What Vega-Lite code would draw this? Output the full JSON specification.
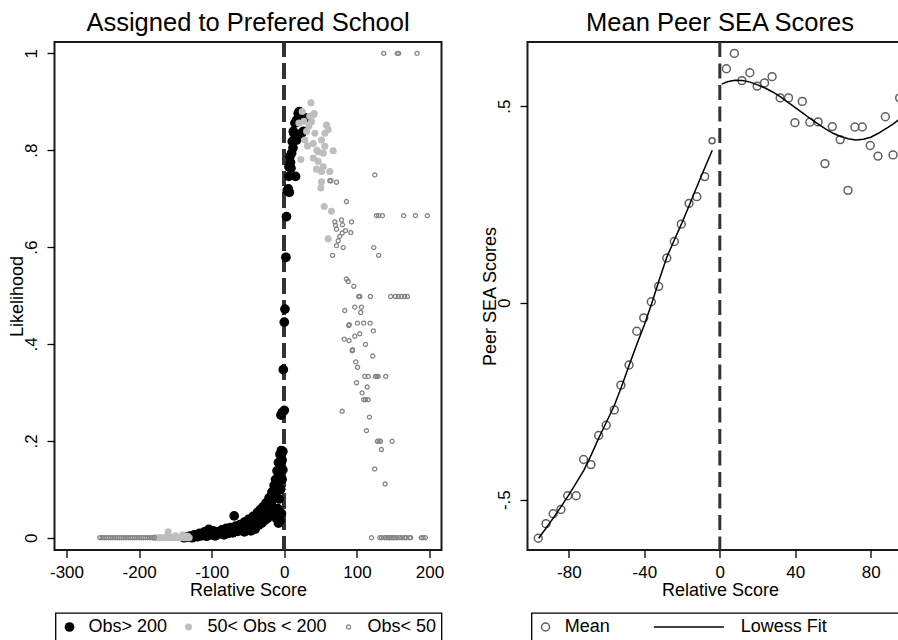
{
  "$schema": "https://vega.github.io/schema/vega-lite/v6.json",
  "background": "white",
  "padding": {"left": 7.5, "top": 10, "right": 0, "bottom": 0},
  "bounds": "flush",
  "spacing": 86,
  "resolve": {
    "scale": {"x": "independent", "y": "independent", "fill": "independent", "stroke": "independent", "size": "independent", "strokeWidth": "independent", "shape": "independent"},
    "legend": {"fill": "independent", "stroke": "independent", "size": "independent", "strokeWidth": "independent", "shape": "independent"}
  },
  "hconcat": [
    {
      "width": 387,
      "height": 508,
      "title": {"text": "Assigned to Prefered School"},
      "data": {"values": [
        {"x": -138, "y": 0.000, "g": "Obs> 200"}, {"x": -134, "y": 0.001, "g": "Obs> 200"}, {"x": -130, "y": 0.003, "g": "Obs> 200"}, {"x": -127, "y": 0.000, "g": "Obs> 200"},
        {"x": -124, "y": 0.006, "g": "Obs> 200"}, {"x": -120, "y": 0.002, "g": "Obs> 200"}, {"x": -117, "y": 0.009, "g": "Obs> 200"}, {"x": -114, "y": 0.004, "g": "Obs> 200"},
        {"x": -110, "y": 0.012, "g": "Obs> 200"}, {"x": -107, "y": 0.003, "g": "Obs> 200"}, {"x": -104, "y": 0.017, "g": "Obs> 200"}, {"x": -101, "y": 0.006, "g": "Obs> 200"},
        {"x": -98, "y": 0.014, "g": "Obs> 200"}, {"x": -95, "y": 0.004, "g": "Obs> 200"}, {"x": -92, "y": 0.012, "g": "Obs> 200"}, {"x": -89, "y": 0.008, "g": "Obs> 200"},
        {"x": -86, "y": 0.016, "g": "Obs> 200"}, {"x": -83, "y": 0.006, "g": "Obs> 200"}, {"x": -80, "y": 0.019, "g": "Obs> 200"}, {"x": -77, "y": 0.009, "g": "Obs> 200"},
        {"x": -74, "y": 0.021, "g": "Obs> 200"}, {"x": -71, "y": 0.010, "g": "Obs> 200"}, {"x": -69, "y": 0.045, "g": "Obs> 200"}, {"x": -67, "y": 0.024, "g": "Obs> 200"},
        {"x": -64, "y": 0.013, "g": "Obs> 200"}, {"x": -61, "y": 0.027, "g": "Obs> 200"}, {"x": -58, "y": 0.016, "g": "Obs> 200"}, {"x": -55, "y": 0.032, "g": "Obs> 200"},
        {"x": -52, "y": 0.020, "g": "Obs> 200"}, {"x": -49, "y": 0.038, "g": "Obs> 200"}, {"x": -46, "y": 0.014, "g": "Obs> 200"}, {"x": -43, "y": 0.044, "g": "Obs> 200"},
        {"x": -40, "y": 0.018, "g": "Obs> 200"}, {"x": -37, "y": 0.052, "g": "Obs> 200"}, {"x": -35, "y": 0.026, "g": "Obs> 200"}, {"x": -33, "y": 0.058, "g": "Obs> 200"},
        {"x": -31, "y": 0.030, "g": "Obs> 200"}, {"x": -29, "y": 0.064, "g": "Obs> 200"}, {"x": -27, "y": 0.036, "g": "Obs> 200"}, {"x": -25, "y": 0.072, "g": "Obs> 200"},
        {"x": -23, "y": 0.040, "g": "Obs> 200"}, {"x": -21, "y": 0.082, "g": "Obs> 200"}, {"x": -19, "y": 0.046, "g": "Obs> 200"}, {"x": -17, "y": 0.094, "g": "Obs> 200"},
        {"x": -15, "y": 0.052, "g": "Obs> 200"}, {"x": -14, "y": 0.108, "g": "Obs> 200"}, {"x": -13, "y": 0.060, "g": "Obs> 200"}, {"x": -12, "y": 0.120, "g": "Obs> 200"},
        {"x": -11, "y": 0.040, "g": "Obs> 200"}, {"x": -10, "y": 0.138, "g": "Obs> 200"}, {"x": -9, "y": 0.060, "g": "Obs> 200"}, {"x": -8, "y": 0.155, "g": "Obs> 200"},
        {"x": -7, "y": 0.080, "g": "Obs> 200"}, {"x": -6, "y": 0.172, "g": "Obs> 200"}, {"x": -5, "y": 0.100, "g": "Obs> 200"}, {"x": -4, "y": 0.180, "g": "Obs> 200"},
        {"x": -3, "y": 0.120, "g": "Obs> 200"}, {"x": -2, "y": 0.178, "g": "Obs> 200"}, {"x": -2, "y": 0.140, "g": "Obs> 200"}, {"x": -3, "y": 0.160, "g": "Obs> 200"},
        {"x": -4, "y": 0.050, "g": "Obs> 200"}, {"x": -6, "y": 0.035, "g": "Obs> 200"}, {"x": -8, "y": 0.030, "g": "Obs> 200"},
        {"x": -45, "y": 0.030, "g": "Obs> 200"}, {"x": -41, "y": 0.035, "g": "Obs> 200"}, {"x": -38, "y": 0.040, "g": "Obs> 200"}, {"x": -34, "y": 0.045, "g": "Obs> 200"},
        {"x": -30, "y": 0.050, "g": "Obs> 200"}, {"x": -26, "y": 0.055, "g": "Obs> 200"}, {"x": -22, "y": 0.062, "g": "Obs> 200"}, {"x": -18, "y": 0.070, "g": "Obs> 200"},
        {"x": -16, "y": 0.080, "g": "Obs> 200"}, {"x": -14, "y": 0.085, "g": "Obs> 200"}, {"x": -12, "y": 0.095, "g": "Obs> 200"}, {"x": -10, "y": 0.100, "g": "Obs> 200"},
        {"x": -9, "y": 0.115, "g": "Obs> 200"}, {"x": -7, "y": 0.130, "g": "Obs> 200"}, {"x": -5, "y": 0.145, "g": "Obs> 200"}, {"x": -100, "y": 0.010, "g": "Obs> 200"},
        {"x": -90, "y": 0.012, "g": "Obs> 200"}, {"x": -80, "y": 0.012, "g": "Obs> 200"}, {"x": -70, "y": 0.016, "g": "Obs> 200"}, {"x": -60, "y": 0.020, "g": "Obs> 200"},
        {"x": -55, "y": 0.012, "g": "Obs> 200"}, {"x": -50, "y": 0.025, "g": "Obs> 200"},
        {"x": 0.9, "y": 0.472, "g": "Obs> 200"}, {"x": 0, "y": 0.445, "g": "Obs> 200"}, {"x": -1.4, "y": 0.347, "g": "Obs> 200"}, {"x": 0, "y": 0.263, "g": "Obs> 200"},
        {"x": -4.6, "y": 0.253, "g": "Obs> 200"}, {"x": -3, "y": 0.258, "g": "Obs> 200"}, {"x": 2.2, "y": 0.579, "g": "Obs> 200"}, {"x": 3, "y": 0.663, "g": "Obs> 200"},
        {"x": 4.1, "y": 0.717, "g": "Obs> 200"}, {"x": 6.9, "y": 0.713, "g": "Obs> 200"}, {"x": 5.5, "y": 0.72, "g": "Obs> 200"}, {"x": 6.3, "y": 0.746, "g": "Obs> 200"},
        {"x": 9.1, "y": 0.763, "g": "Obs> 200"}, {"x": 15.5, "y": 0.746, "g": "Obs> 200"}, {"x": 6.3, "y": 0.766, "g": "Obs> 200"}, {"x": 7.7, "y": 0.787, "g": "Obs> 200"},
        {"x": 10, "y": 0.794, "g": "Obs> 200"}, {"x": 12, "y": 0.805, "g": "Obs> 200"}, {"x": 11, "y": 0.818, "g": "Obs> 200"}, {"x": 16.9, "y": 0.821, "g": "Obs> 200"},
        {"x": 12.4, "y": 0.839, "g": "Obs> 200"}, {"x": 13.2, "y": 0.835, "g": "Obs> 200"}, {"x": 23.8, "y": 0.835, "g": "Obs> 200"}, {"x": 26.1, "y": 0.839, "g": "Obs> 200"},
        {"x": 16.9, "y": 0.862, "g": "Obs> 200"}, {"x": 14.6, "y": 0.856, "g": "Obs> 200"}, {"x": 28.3, "y": 0.867, "g": "Obs> 200"}, {"x": 20.6, "y": 0.880, "g": "Obs> 200"},
        {"x": 19.2, "y": 0.876, "g": "Obs> 200"}, {"x": 22, "y": 0.868, "g": "Obs> 200"}, {"x": 8.5, "y": 0.775, "g": "Obs> 200"},
        {"x": -178, "y": 0, "g": "50< Obs < 200"}, {"x": -175, "y": 0, "g": "50< Obs < 200"}, {"x": -171, "y": 0, "g": "50< Obs < 200"}, {"x": -168, "y": 0, "g": "50< Obs < 200"},
        {"x": -165, "y": 0, "g": "50< Obs < 200"}, {"x": -162, "y": 0, "g": "50< Obs < 200"}, {"x": -158, "y": 0, "g": "50< Obs < 200"}, {"x": -155, "y": 0, "g": "50< Obs < 200"},
        {"x": -152, "y": 0, "g": "50< Obs < 200"}, {"x": -149, "y": 0, "g": "50< Obs < 200"}, {"x": -146, "y": 0, "g": "50< Obs < 200"}, {"x": -143, "y": 0, "g": "50< Obs < 200"},
        {"x": -140, "y": 0, "g": "50< Obs < 200"}, {"x": -137, "y": 0, "g": "50< Obs < 200"}, {"x": -134, "y": 0, "g": "50< Obs < 200"}, {"x": -131, "y": 0, "g": "50< Obs < 200"},
        {"x": -160, "y": 0.012, "g": "50< Obs < 200"}, {"x": -150, "y": 0.004, "g": "50< Obs < 200"}, {"x": -140, "y": 0.006, "g": "50< Obs < 200"}, {"x": -133, "y": 0.003, "g": "50< Obs < 200"},
        {"x": 36.6, "y": 0.898, "g": "50< Obs < 200"}, {"x": 24.7, "y": 0.880, "g": "50< Obs < 200"}, {"x": 39.9, "y": 0.873, "g": "50< Obs < 200"}, {"x": 41.2, "y": 0.876, "g": "50< Obs < 200"},
        {"x": 37.5, "y": 0.859, "g": "50< Obs < 200"}, {"x": 58.1, "y": 0.852, "g": "50< Obs < 200"}, {"x": 60.5, "y": 0.843, "g": "50< Obs < 200"}, {"x": 55.8, "y": 0.835, "g": "50< Obs < 200"},
        {"x": 20.1, "y": 0.856, "g": "50< Obs < 200"}, {"x": 30.7, "y": 0.839, "g": "50< Obs < 200"}, {"x": 42.1, "y": 0.835, "g": "50< Obs < 200"}, {"x": 28.3, "y": 0.821, "g": "50< Obs < 200"},
        {"x": 51.3, "y": 0.821, "g": "50< Obs < 200"}, {"x": 39.9, "y": 0.814, "g": "50< Obs < 200"}, {"x": 32, "y": 0.809, "g": "50< Obs < 200"}, {"x": 55.8, "y": 0.808, "g": "50< Obs < 200"},
        {"x": 67.4, "y": 0.799, "g": "50< Obs < 200"}, {"x": 46.7, "y": 0.797, "g": "50< Obs < 200"}, {"x": 53.6, "y": 0.794, "g": "50< Obs < 200"}, {"x": 39.9, "y": 0.784, "g": "50< Obs < 200"},
        {"x": 22.8, "y": 0.781, "g": "50< Obs < 200"}, {"x": 46.7, "y": 0.777, "g": "50< Obs < 200"}, {"x": 53.6, "y": 0.766, "g": "50< Obs < 200"}, {"x": 44.4, "y": 0.761, "g": "50< Obs < 200"},
        {"x": 51.3, "y": 0.756, "g": "50< Obs < 200"}, {"x": 62.7, "y": 0.756, "g": "50< Obs < 200"}, {"x": 51.3, "y": 0.735, "g": "50< Obs < 200"}, {"x": 50.3, "y": 0.722, "g": "50< Obs < 200"},
        {"x": 55, "y": 0.684, "g": "50< Obs < 200"}, {"x": 65, "y": 0.674, "g": "50< Obs < 200"}, {"x": 60.5, "y": 0.617, "g": "50< Obs < 200"}, {"x": 34, "y": 0.85, "g": "50< Obs < 200"},
        {"x": 45, "y": 0.80, "g": "50< Obs < 200"}, {"x": 35, "y": 0.87, "g": "50< Obs < 200"}, {"x": 27, "y": 0.86, "g": "50< Obs < 200"},
        {"x": -254, "y": 0, "g": "Obs< 50"}, {"x": -251, "y": 0, "g": "Obs< 50"}, {"x": -248, "y": 0, "g": "Obs< 50"}, {"x": -245, "y": 0, "g": "Obs< 50"},
        {"x": -242, "y": 0, "g": "Obs< 50"}, {"x": -239, "y": 0, "g": "Obs< 50"}, {"x": -236, "y": 0, "g": "Obs< 50"}, {"x": -233, "y": 0, "g": "Obs< 50"},
        {"x": -230, "y": 0, "g": "Obs< 50"}, {"x": -227, "y": 0, "g": "Obs< 50"}, {"x": -224, "y": 0, "g": "Obs< 50"}, {"x": -221, "y": 0, "g": "Obs< 50"},
        {"x": -218, "y": 0, "g": "Obs< 50"}, {"x": -215, "y": 0, "g": "Obs< 50"}, {"x": -212, "y": 0, "g": "Obs< 50"}, {"x": -209, "y": 0, "g": "Obs< 50"},
        {"x": -206, "y": 0, "g": "Obs< 50"}, {"x": -203, "y": 0, "g": "Obs< 50"}, {"x": -200, "y": 0, "g": "Obs< 50"}, {"x": -197, "y": 0, "g": "Obs< 50"},
        {"x": -194, "y": 0, "g": "Obs< 50"}, {"x": -191, "y": 0, "g": "Obs< 50"}, {"x": -188, "y": 0, "g": "Obs< 50"}, {"x": -185, "y": 0, "g": "Obs< 50"},
        {"x": -182, "y": 0, "g": "Obs< 50"}, {"x": -179, "y": 0, "g": "Obs< 50"},
        {"x": 136.9, "y": 1, "g": "Obs< 50"}, {"x": 155.5, "y": 1, "g": "Obs< 50"}, {"x": 157.5, "y": 1, "g": "Obs< 50"}, {"x": 182.8, "y": 1, "g": "Obs< 50"},
        {"x": 124.6, "y": 0.749, "g": "Obs< 50"}, {"x": 62.7, "y": 0.737, "g": "Obs< 50"}, {"x": 64.1, "y": 0.737, "g": "Obs< 50"}, {"x": 71.9, "y": 0.734, "g": "Obs< 50"},
        {"x": 85.6, "y": 0.694, "g": "Obs< 50"}, {"x": 126.9, "y": 0.665, "g": "Obs< 50"}, {"x": 130, "y": 0.665, "g": "Obs< 50"}, {"x": 135.1, "y": 0.665, "g": "Obs< 50"},
        {"x": 164.4, "y": 0.665, "g": "Obs< 50"}, {"x": 180.5, "y": 0.665, "g": "Obs< 50"}, {"x": 197, "y": 0.665, "g": "Obs< 50"}, {"x": 69.6, "y": 0.652, "g": "Obs< 50"},
        {"x": 78.8, "y": 0.656, "g": "Obs< 50"}, {"x": 92.5, "y": 0.652, "g": "Obs< 50"}, {"x": 70.5, "y": 0.645, "g": "Obs< 50"}, {"x": 80.1, "y": 0.646, "g": "Obs< 50"},
        {"x": 71.9, "y": 0.637, "g": "Obs< 50"}, {"x": 84.3, "y": 0.634, "g": "Obs< 50"}, {"x": 91.6, "y": 0.630, "g": "Obs< 50"}, {"x": 79.7, "y": 0.629, "g": "Obs< 50"},
        {"x": 76.4, "y": 0.622, "g": "Obs< 50"}, {"x": 74.2, "y": 0.613, "g": "Obs< 50"}, {"x": 71.9, "y": 0.603, "g": "Obs< 50"}, {"x": 81.1, "y": 0.599, "g": "Obs< 50"},
        {"x": 123.2, "y": 0.599, "g": "Obs< 50"}, {"x": 66.4, "y": 0.583, "g": "Obs< 50"}, {"x": 130, "y": 0.583, "g": "Obs< 50"}, {"x": 85.6, "y": 0.534, "g": "Obs< 50"},
        {"x": 88, "y": 0.529, "g": "Obs< 50"}, {"x": 95.7, "y": 0.519, "g": "Obs< 50"},
        {"x": 102.5, "y": 0.498, "g": "Obs< 50"}, {"x": 104, "y": 0.498, "g": "Obs< 50"}, {"x": 118.6, "y": 0.498, "g": "Obs< 50"}, {"x": 146.5, "y": 0.498, "g": "Obs< 50"},
        {"x": 153, "y": 0.498, "g": "Obs< 50"}, {"x": 157, "y": 0.498, "g": "Obs< 50"}, {"x": 161.2, "y": 0.498, "g": "Obs< 50"}, {"x": 165.8, "y": 0.498, "g": "Obs< 50"},
        {"x": 169.5, "y": 0.498, "g": "Obs< 50"},
        {"x": 83.3, "y": 0.469, "g": "Obs< 50"}, {"x": 97, "y": 0.476, "g": "Obs< 50"}, {"x": 106.3, "y": 0.476, "g": "Obs< 50"}, {"x": 105.3, "y": 0.465, "g": "Obs< 50"},
        {"x": 88.8, "y": 0.438, "g": "Obs< 50"}, {"x": 89.5, "y": 0.440, "g": "Obs< 50"}, {"x": 100.8, "y": 0.443, "g": "Obs< 50"}, {"x": 109.4, "y": 0.443, "g": "Obs< 50"},
        {"x": 118.2, "y": 0.443, "g": "Obs< 50"}, {"x": 122.7, "y": 0.427, "g": "Obs< 50"}, {"x": 82.5, "y": 0.410, "g": "Obs< 50"}, {"x": 89.3, "y": 0.407, "g": "Obs< 50"},
        {"x": 97, "y": 0.416, "g": "Obs< 50"}, {"x": 103.9, "y": 0.421, "g": "Obs< 50"}, {"x": 111.8, "y": 0.399, "g": "Obs< 50"}, {"x": 93.5, "y": 0.386, "g": "Obs< 50"},
        {"x": 94, "y": 0.388, "g": "Obs< 50"}, {"x": 121.8, "y": 0.375, "g": "Obs< 50"}, {"x": 98.4, "y": 0.363, "g": "Obs< 50"}, {"x": 100.8, "y": 0.352, "g": "Obs< 50"},
        {"x": 110.8, "y": 0.333, "g": "Obs< 50"}, {"x": 115.5, "y": 0.333, "g": "Obs< 50"}, {"x": 125.5, "y": 0.333, "g": "Obs< 50"}, {"x": 127.5, "y": 0.333, "g": "Obs< 50"},
        {"x": 129.2, "y": 0.333, "g": "Obs< 50"}, {"x": 139.7, "y": 0.333, "g": "Obs< 50"}, {"x": 99.4, "y": 0.320, "g": "Obs< 50"}, {"x": 114.1, "y": 0.311, "g": "Obs< 50"},
        {"x": 107.2, "y": 0.299, "g": "Obs< 50"}, {"x": 109.4, "y": 0.285, "g": "Obs< 50"}, {"x": 112, "y": 0.285, "g": "Obs< 50"}, {"x": 115.5, "y": 0.285, "g": "Obs< 50"},
        {"x": 79.7, "y": 0.261, "g": "Obs< 50"}, {"x": 117.3, "y": 0.249, "g": "Obs< 50"}, {"x": 113.1, "y": 0.221, "g": "Obs< 50"}, {"x": 128.2, "y": 0.199, "g": "Obs< 50"},
        {"x": 130.5, "y": 0.199, "g": "Obs< 50"}, {"x": 132.4, "y": 0.199, "g": "Obs< 50"}, {"x": 148.5, "y": 0.199, "g": "Obs< 50"}, {"x": 133.7, "y": 0.182, "g": "Obs< 50"},
        {"x": 124.5, "y": 0.142, "g": "Obs< 50"}, {"x": 138.8, "y": 0.111, "g": "Obs< 50"},
        {"x": 120, "y": 0, "g": "Obs< 50"}, {"x": 131.5, "y": 0, "g": "Obs< 50"}, {"x": 134, "y": 0, "g": "Obs< 50"}, {"x": 138.3, "y": 0, "g": "Obs< 50"},
        {"x": 141, "y": 0, "g": "Obs< 50"}, {"x": 143, "y": 0, "g": "Obs< 50"}, {"x": 145.2, "y": 0, "g": "Obs< 50"}, {"x": 147, "y": 0, "g": "Obs< 50"},
        {"x": 150, "y": 0, "g": "Obs< 50"}, {"x": 152, "y": 0, "g": "Obs< 50"}, {"x": 155, "y": 0, "g": "Obs< 50"}, {"x": 158.9, "y": 0, "g": "Obs< 50"},
        {"x": 162, "y": 0, "g": "Obs< 50"}, {"x": 165.8, "y": 0, "g": "Obs< 50"}, {"x": 168, "y": 0, "g": "Obs< 50"}, {"x": 172.7, "y": 0, "g": "Obs< 50"},
        {"x": 174, "y": 0, "g": "Obs< 50"}, {"x": 188.7, "y": 0, "g": "Obs< 50"}, {"x": 191, "y": 0, "g": "Obs< 50"}, {"x": 194.2, "y": 0, "g": "Obs< 50"}
      ]},
      "layer": [
        {
          "mark": {"type": "rule", "color": "#333333", "strokeWidth": 3, "strokeDash": [15, 6.5]},
          "encoding": {"x": {"datum": 0, "type": "quantitative", "scale": {"domain": [-316.5, 216.5], "nice": false, "zero": false}}}
        },
        {
          "mark": {"type": "point", "filled": true, "opacity": 1},
          "encoding": {
            "x": {"field": "x", "type": "quantitative", "scale": {"domain": [-316.5, 216.5], "nice": false, "zero": false},
                  "axis": {"values": [-300, -200, -100, 0, 100, 200], "labelExpr": "toString(datum.value)", "title": "Relative Score"}},
            "y": {"field": "y", "type": "quantitative", "scale": {"domain": [-0.0254, 1.0235], "nice": false, "zero": false},
                  "axis": {"values": [0, 0.2, 0.4, 0.6, 0.8, 1], "labelExpr": "datum.value == 0 ? '0' : datum.value == 1 ? '1' : replace(toString(datum.value), '0.', '.')", "title": "Likelihood"}},
            "fill": {"field": "g", "type": "nominal", "scale": {"domain": ["Obs> 200", "50< Obs < 200", "Obs< 50"], "range": ["#000000", "#bebebe", "transparent"]},
                     "legend": {"orient": "none", "legendX": 1, "legendY": 571, "direction": "horizontal", "title": null, "strokeColor": "#000000", "padding": 5, "fillColor": "#ffffff", "labelFontSize": 18, "labelOffset": 10, "columnPadding": 12, "labelColor": "#000000", "labelFont": "Liberation Sans"}},
            "stroke": {"field": "g", "type": "nominal", "scale": {"domain": ["Obs> 200", "50< Obs < 200", "Obs< 50"], "range": ["#000000", "#bebebe", "#858585"]}},
            "size": {"field": "g", "type": "nominal", "scale": {"type": "ordinal", "domain": ["Obs> 200", "50< Obs < 200", "Obs< 50"], "range": [95, 50, 17]}},
            "strokeWidth": {"field": "g", "type": "nominal", "scale": {"type": "ordinal", "domain": ["Obs> 200", "50< Obs < 200", "Obs< 50"], "range": [0, 0, 1.3]}}
          }
        }
      ]
    },
    {
      "width": 385,
      "height": 508,
      "title": {"text": "Mean Peer SEA Scores"},
      "layer": [
        {
          "data": {"values": [{"x": 0}]},
          "mark": {"type": "rule", "color": "#333333", "strokeWidth": 3, "strokeDash": [15, 6.5]},
          "encoding": {"x": {"datum": 0, "type": "quantitative", "scale": {"domain": [-101.9, 102.1], "nice": false, "zero": false}}}
        },
        {
          "data": {"values": [
            {"x": -96.2, "y": -0.598, "obs": 1}, {"x": -92.1, "y": -0.561, "obs": 1}, {"x": -88.3, "y": -0.536, "obs": 1}, {"x": -84.2, "y": -0.525, "obs": 1},
            {"x": -80.6, "y": -0.490, "obs": 1}, {"x": -76.1, "y": -0.490, "obs": 1}, {"x": -72.2, "y": -0.398, "obs": 1}, {"x": -68.3, "y": -0.411, "obs": 1},
            {"x": -64.2, "y": -0.337, "obs": 1}, {"x": -60.2, "y": -0.311, "obs": 1}, {"x": -55.9, "y": -0.272, "obs": 1}, {"x": -52.4, "y": -0.209, "obs": 1},
            {"x": -48.1, "y": -0.158, "obs": 1}, {"x": -44.0, "y": -0.072, "obs": 1}, {"x": -40.3, "y": -0.038, "obs": 1}, {"x": -36.3, "y": 0.003, "obs": 1},
            {"x": -32.4, "y": 0.042, "obs": 1}, {"x": -28.1, "y": 0.114, "obs": 1}, {"x": -24.1, "y": 0.156, "obs": 1}, {"x": -20.4, "y": 0.200, "obs": 1},
            {"x": -16.3, "y": 0.253, "obs": 1}, {"x": -12.2, "y": 0.270, "obs": 1}, {"x": -8.0, "y": 0.321, "obs": 1}, {"x": -4.1, "y": 0.412, "obs": 0.58},
            {"x": 3.5, "y": 0.595, "obs": 1}, {"x": 7.7, "y": 0.634, "obs": 1}, {"x": 11.7, "y": 0.565, "obs": 1}, {"x": 15.9, "y": 0.585, "obs": 1},
            {"x": 19.8, "y": 0.551, "obs": 1}, {"x": 23.7, "y": 0.559, "obs": 1}, {"x": 27.7, "y": 0.575, "obs": 1}, {"x": 32.0, "y": 0.521, "obs": 1},
            {"x": 36.4, "y": 0.521, "obs": 1}, {"x": 39.8, "y": 0.458, "obs": 1}, {"x": 43.7, "y": 0.512, "obs": 1}, {"x": 47.7, "y": 0.459, "obs": 1},
            {"x": 52.1, "y": 0.460, "obs": 1}, {"x": 55.7, "y": 0.354, "obs": 1}, {"x": 59.6, "y": 0.448, "obs": 1}, {"x": 63.8, "y": 0.415, "obs": 1},
            {"x": 67.9, "y": 0.286, "obs": 1}, {"x": 71.6, "y": 0.447, "obs": 1}, {"x": 75.5, "y": 0.447, "obs": 1}, {"x": 79.7, "y": 0.400, "obs": 1},
            {"x": 83.8, "y": 0.373, "obs": 1}, {"x": 87.7, "y": 0.473, "obs": 1}, {"x": 91.8, "y": 0.376, "obs": 1}, {"x": 95.3, "y": 0.521, "obs": 1}
          ]},
          "mark": {"type": "point", "filled": false, "strokeWidth": 1.5, "opacity": 1},
          "encoding": {
            "x": {"field": "x", "type": "quantitative", "scale": {"domain": [-101.9, 102.1], "nice": false, "zero": false},
                  "axis": {"values": [-80, -40, 0, 40, 80], "labelExpr": "toString(datum.value)", "title": "Relative Score"}},
            "y": {"field": "y", "type": "quantitative", "scale": {"domain": [-0.628, 0.663], "nice": false, "zero": false},
                  "axis": {"values": [-0.5, 0, 0.5], "labelExpr": "datum.value == 0 ? '0' : replace(toString(datum.value), '0.', '.')", "title": "Peer SEA Scores"}},
            "size": {"field": "obs", "type": "quantitative", "scale": {"type": "linear", "domain": [0, 1], "range": [0, 62]}, "legend": null},
            "shape": {"datum": "Mean", "type": "nominal", "scale": {"domain": ["Mean", "Lowess Fit", "pad"], "range": ["circle", "M-16.9,0H0.6", "M0,0H20"]},
                      "legend": {"orient": "none", "legendX": 4, "legendY": 571, "direction": "horizontal", "title": null, "strokeColor": "#000000", "padding": 5, "fillColor": "#ffffff", "symbolSize": 64, "symbolStrokeWidth": 1.5, "labelFontSize": 18, "labelOffset": 10.3, "columnPadding": 40, "labelColor": "#000000", "labelFont": "Liberation Sans", "labelExpr": "datum.label == 'pad' ? '' : datum.label"}},
            "stroke": {"datum": "Mean", "type": "nominal", "scale": {"domain": ["Mean", "Lowess Fit", "pad"], "range": ["#5f5f5f", "#000000", "transparent"]}}
          }
        },
        {
          "data": {"values": [
            {"x": -96, "fit": -0.598, "side": "left"}, {"x": -92, "fit": -0.572, "side": "left"}, {"x": -88, "fit": -0.545, "side": "left"}, {"x": -84, "fit": -0.517, "side": "left"},
            {"x": -80, "fit": -0.488, "side": "left"}, {"x": -76, "fit": -0.457, "side": "left"}, {"x": -72, "fit": -0.425, "side": "left"}, {"x": -68, "fit": -0.385, "side": "left"},
            {"x": -64, "fit": -0.342, "side": "left"}, {"x": -60, "fit": -0.302, "side": "left"}, {"x": -56, "fit": -0.262, "side": "left"}, {"x": -52, "fit": -0.212, "side": "left"},
            {"x": -48, "fit": -0.158, "side": "left"}, {"x": -44, "fit": -0.106, "side": "left"}, {"x": -40, "fit": -0.056, "side": "left"}, {"x": -36, "fit": 0.0, "side": "left"},
            {"x": -32, "fit": 0.06, "side": "left"}, {"x": -28, "fit": 0.117, "side": "left"}, {"x": -24, "fit": 0.161, "side": "left"}, {"x": -20, "fit": 0.204, "side": "left"},
            {"x": -16, "fit": 0.25, "side": "left"}, {"x": -12, "fit": 0.297, "side": "left"}, {"x": -8, "fit": 0.343, "side": "left"}, {"x": -4, "fit": 0.388, "side": "left"},
            {"x": 1, "fit": 0.556, "side": "right"}, {"x": 4, "fit": 0.562, "side": "right"}, {"x": 8, "fit": 0.566, "side": "right"}, {"x": 12, "fit": 0.565, "side": "right"},
            {"x": 16, "fit": 0.561, "side": "right"}, {"x": 20, "fit": 0.554, "side": "right"}, {"x": 24, "fit": 0.546, "side": "right"}, {"x": 28, "fit": 0.536, "side": "right"},
            {"x": 32, "fit": 0.524, "side": "right"}, {"x": 36, "fit": 0.510, "side": "right"}, {"x": 40, "fit": 0.496, "side": "right"}, {"x": 44, "fit": 0.482, "side": "right"},
            {"x": 48, "fit": 0.468, "side": "right"}, {"x": 52, "fit": 0.455, "side": "right"}, {"x": 56, "fit": 0.442, "side": "right"}, {"x": 60, "fit": 0.431, "side": "right"},
            {"x": 64, "fit": 0.423, "side": "right"}, {"x": 68, "fit": 0.417, "side": "right"}, {"x": 72, "fit": 0.414, "side": "right"}, {"x": 76, "fit": 0.416, "side": "right"},
            {"x": 80, "fit": 0.421, "side": "right"}, {"x": 84, "fit": 0.431, "side": "right"}, {"x": 88, "fit": 0.443, "side": "right"}, {"x": 92, "fit": 0.455, "side": "right"},
            {"x": 96, "fit": 0.470, "side": "right"}, {"x": 100, "fit": 0.485, "side": "right"}
          ]},
          "mark": {"type": "line", "color": "#000000", "strokeWidth": 1.5},
          "encoding": {
            "x": {"field": "x", "type": "quantitative", "scale": {"domain": [-101.9, 102.1], "nice": false, "zero": false}},
            "y": {"field": "fit", "type": "quantitative", "scale": {"domain": [-0.628, 0.663], "nice": false, "zero": false}},
            "detail": {"field": "side", "type": "nominal"}
          }
        }
      ]
    }
  ],
  "config": {
    "font": "Liberation Sans",
    "view": {"stroke": "#1a1a1a", "strokeWidth": 2},
    "legend": {"strokeWidth": 1.3},
    "axis": {"grid": false, "domain": false, "ticks": true, "tickColor": "#000000", "tickSize": 7.5, "tickWidth": 1.3,
             "labelFont": "Liberation Sans", "labelFontSize": 17, "labelColor": "#000000", "labelFlush": false, "labelOverlap": false,
             "titleFont": "Liberation Sans", "titleFontSize": 18, "titleFontWeight": "normal", "titleColor": "#000000"},
    "axisX": {"labelPadding": 7, "titlePadding": 1},
    "axisY": {"labelAngle": -90, "labelAlign": "center", "labelBaseline": "bottom", "labelPadding": 7, "titlePadding": -4.5},
    "title": {"fontSize": 25.5, "fontWeight": "normal", "font": "Liberation Sans", "color": "#000000", "offset": 3.7, "baseline": "alphabetic", "frame": "group", "anchor": "middle"}
  }
}
